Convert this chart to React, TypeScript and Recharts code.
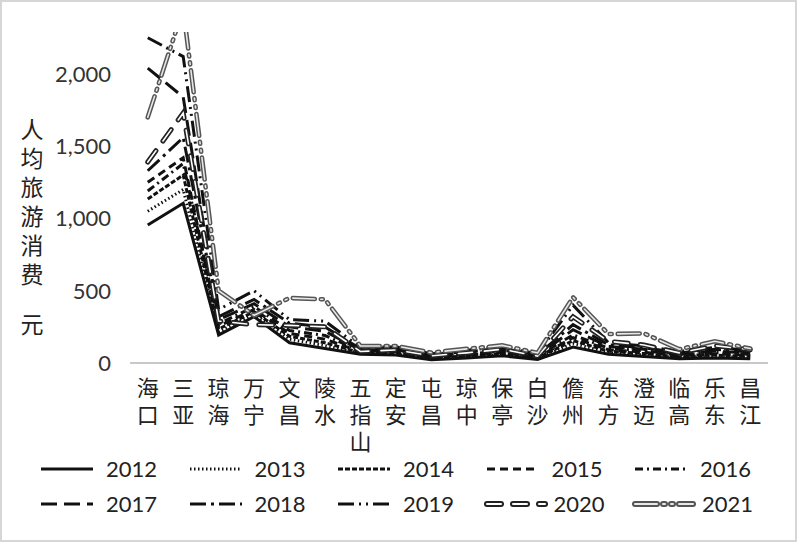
import React from "react";
import { LineChart, Line, XAxis, YAxis } from "recharts";

const cities = ["海口", "三亚", "琼海", "万宁", "文昌", "陵水", "五指山", "定安", "屯昌", "琼中", "保亭", "白沙", "儋州", "东方", "澄迈", "临高", "乐东", "昌江"];
const years = ["2012", "2013", "2014", "2015", "2016", "2017", "2018", "2019", "2020", "2021"];

const v2012 = [955, 1105, 194, 320, 140, 100, 60, 55, 22, 35, 50, 25, 110, 60, 45, 30, 35, 30];
const v2013 = [1050, 1200, 215, 340, 165, 120, 66, 62, 28, 42, 58, 30, 135, 72, 55, 36, 45, 38];
const v2014 = [1135, 1300, 235, 355, 185, 140, 72, 70, 33, 50, 66, 35, 155, 82, 65, 42, 55, 45];
const v2015 = [1250, 1420, 255, 370, 205, 165, 78, 78, 38, 56, 74, 40, 175, 92, 75, 48, 64, 52];
const v2016 = [1190, 1380, 270, 390, 225, 190, 84, 86, 44, 62, 82, 45, 195, 102, 85, 55, 74, 60];
const v2017 = [2040, 1840, 300, 410, 250, 220, 90, 94, 50, 70, 90, 50, 230, 114, 95, 62, 84, 68];
const v2018 = [1330, 1560, 320, 440, 275, 250, 98, 102, 56, 78, 100, 56, 265, 126, 105, 70, 95, 76];
const v2019 = [2250, 2120, 370, 500, 300, 290, 108, 112, 64, 88, 112, 64, 400, 140, 118, 80, 108, 86];
const v2020 = [1390, 1730, 290, 265, 260, 250, 80, 90, 50, 70, 95, 48, 320, 150, 125, 70, 120, 92];
const v2021 = [1700, 2450, 500, 330, 450, 440, 118, 118, 72, 98, 122, 70, 455, 200, 205, 95, 150, 100];

const seriesValues = [v2012, v2013, v2014, v2015, v2016, v2017, v2018, v2019, v2020, v2021];
const yTicks = [0, 500, 1000, 1500, 2000];
const titleChars = ["人", "均", "旅", "游", "消", "费", "元"];

const data = cities.map((city, i) => {
  const row: Record<string, any> = { city };
  years.forEach((y, k) => (row[y] = seriesValues[k][i]));
  return row;
});

type LineStyle = { dash?: string; double?: boolean; outer: string; inner?: string; width: number };

const lineStyles: Record<string, LineStyle> = {
  "2012": { outer: "#111", width: 3 },
  "2013": { dash: "1.5 2.5", outer: "#111", width: 3 },
  "2014": { dash: "5 2", outer: "#111", width: 3 },
  "2015": { dash: "8 5", outer: "#111", width: 3 },
  "2016": { dash: "8 4 2 4", outer: "#111", width: 3 },
  "2017": { dash: "16 7", outer: "#111", width: 3 },
  "2018": { dash: "16 5 3 5", outer: "#111", width: 3 },
  "2019": { dash: "16 5 2 5 2 5", outer: "#111", width: 3 },
  "2020": { dash: "14 12", double: true, outer: "#222", inner: "#fff", width: 5 },
  "2021": { dash: "22 6 2 6 2 6", double: true, outer: "#555", inner: "#e8e8e8", width: 4.6 },
};

const font = "Lato, 'Noto Sans', sans-serif";
const cjk = "'Noto Sans CJK SC', sans-serif";

// vertical category names, one character per line
function CityTick(props: any) {
  const { x, y, payload } = props;
  const chars = Array.from(String(payload.value));
  return (
    <g fontSize={22} fill="#222" fontFamily={cjk} textAnchor="middle">
      {chars.map((ch, i) => (
        <text key={i} x={x} y={y + 25 + i * 27}>
          {ch}
        </text>
      ))}
    </g>
  );
}

function VerticalTitle() {
  return (
    <g fontSize={23} fill="#222" fontFamily={cjk} textAnchor="middle">
      {titleChars.map((ch, i) => (
        <text key={i} x={32} y={138 + i * 29 + (i === 6 ? 21 : 0)}>
          {ch}
        </text>
      ))}
    </g>
  );
}

function LegendSample({ year }: { year: string }) {
  const s = lineStyles[year];
  const w = s.double ? 64 : 58;
  return (
    <svg width={w} height={12} style={{ display: "block" }}>
      <line x1={3} y1={6} x2={w - 3} y2={6} stroke={s.outer} strokeWidth={s.double ? 6 : 3}
        strokeDasharray={s.dash} strokeLinecap={s.double ? "round" : "butt"} />
      {s.double && (
        <line x1={3} y1={6} x2={w - 3} y2={6} stroke={s.inner} strokeWidth={2}
          strokeDasharray={s.dash} strokeLinecap="round" />
      )}
    </svg>
  );
}

function ChartLegend() {
  return (
    <>
      {years.map((y, i) => {
        const col = i % 5;
        const row = Math.floor(i / 5);
        return (
          <div key={y} style={{
            position: "absolute", left: 36 + col * 148.5, top: 453 + row * 35,
            display: "flex", alignItems: "center", gap: 10, height: 28,
          }}>
            <LegendSample year={y} />
            <span style={{ fontFamily: font, fontSize: 22, color: "#222", lineHeight: "28px", marginLeft: lineStyles[y].double ? -4 : 0 }}>{y}</span>
          </div>
        );
      })}
    </>
  );
}

export default function App() {
  return (
    <div style={{
      position: "absolute", left: 0, top: 0, width: 797, height: 542,
      background: "#fff", border: "2px solid #d6d6d6", boxSizing: "border-box",
    }}>
      <div style={{ position: "absolute", left: -2, top: -2 }}>
        <LineChart width={797} height={542} data={data} margin={{ top: 32, right: 29, left: 0, bottom: 0 }}>
          <XAxis dataKey="city" interval={0} tickLine={false} axisLine={{ stroke: "#c8c8c8", strokeWidth: 2 }}
            padding={{ left: 17.75, right: 17.75 }} tick={<CityTick />} height={179} />
          <YAxis width={130} domain={[0, 2290]} ticks={yTicks} allowDataOverflow axisLine={false} tickLine={false}
            tickSize={6} tickMargin={13} tickFormatter={(v: number) => v.toLocaleString("en-US")}
            tick={{ fontSize: 22, fill: "#333", fontFamily: font }}
            label={{ content: () => <VerticalTitle /> }} />
          {years.map((y) => {
            const s = lineStyles[y];
            const lines = [
              <Line key={y} type="linear" dataKey={y} stroke={s.outer} strokeWidth={s.width}
                strokeDasharray={s.dash} strokeLinecap={s.double ? "round" : "butt"} dot={false}
                activeDot={false} isAnimationActive={false} />,
            ];
            if (s.double) {
              lines.push(
                <Line key={y + "-in"} type="linear" dataKey={y} stroke={s.inner} strokeWidth={1.6}
                  strokeDasharray={s.dash} strokeLinecap="round" dot={false} activeDot={false}
                  isAnimationActive={false} legendType="none" />
              );
            }
            return lines;
          })}
        </LineChart>
      </div>
      <ChartLegend />
    </div>
  );
}
